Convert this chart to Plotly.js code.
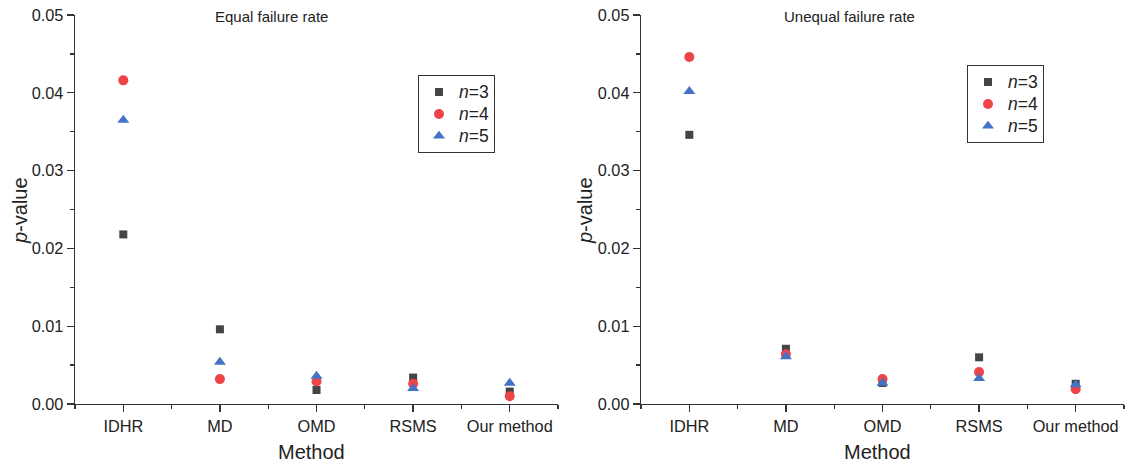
<!DOCTYPE html>
<html>
<head>
<meta charset="utf-8">
<script src="https://cdn.plot.ly/plotly-3.0.1.min.js"></script>
<style>html,body{margin:0;padding:0;background:#fff}#chart{width:1126px;height:463px}</style>
</head>
<body>
<div id="chart"></div>
<script>
// Data
const methods = ["IDHR", "MD", "OMD", "RSMS", "Our method"];
const seriesNames = ["<i>n</i>=3", "<i>n</i>=4", "<i>n</i>=5"];
// Equal failure rate
const equalN3 = [0.0218, 0.0096, 0.0018, 0.0034, 0.0016];
const equalN4 = [0.0416, 0.0032, 0.0029, 0.0026, 0.0010];
const equalN5 = [0.0365, 0.0054, 0.0036, 0.0020, 0.0027];
// Unequal failure rate
const unequalN3 = [0.0346, 0.0071, 0.0027, 0.0060, 0.0026];
const unequalN4 = [0.0446, 0.0064, 0.0032, 0.0041, 0.0019];
const unequalN5 = [0.0402, 0.0061, 0.0027, 0.0033, 0.0025];
const yTickVals = [0, 0.01, 0.02, 0.03, 0.04, 0.05];

const colors = ["#444444", "#ec4448", "#4472c4"];
const symbols = ["square", "circle", "triangle-up"];
const sizes = [8, 10, 10.5];
const xIdx = methods.map((m, i) => i);
const FAM = "Liberation Sans, Arial, sans-serif";

function mk(vals, k, xa, ya, leg) {
  return {
    type: "scatter", mode: "markers", x: xIdx, y: vals,
    xaxis: xa, yaxis: ya, legend: leg,
    name: '<span style="font-size:17.5px">' + seriesNames[k] + '</span>',
    marker: {symbol: symbols[k], size: sizes[k], color: colors[k], line: {width: 0}},
    hoverinfo: "x+y"
  };
}
const traces = [
  mk(equalN3, 0, "x", "y", "legend"),
  mk(equalN4, 1, "x", "y", "legend"),
  mk(equalN5, 2, "x", "y", "legend"),
  mk(unequalN3, 0, "x2", "y2", "legend2"),
  mk(unequalN4, 1, "x2", "y2", "legend2"),
  mk(unequalN5, 2, "x2", "y2", "legend2")
];

const tickFont = {family: FAM, size: 16.3, color: "#222"};
function xax(dom) {
  return {
    domain: dom, range: [-0.5, 4.5], tickmode: "array", tickvals: xIdx, ticktext: methods,
    showline: true, linecolor: "#333", linewidth: 1.3, ticks: "outside", ticklen: 7, tickwidth: 1.3,
    tickcolor: "#333", showgrid: false, zeroline: false, fixedrange: true,
    minor: {tickmode: "linear", tick0: -0.5, dtick: 1, ticks: "outside", ticklen: 4, tickwidth: 1.3, tickcolor: "#333", showgrid: false},
    tickfont: tickFont
  };
}
function yax(anchor) {
  return {
    domain: [0.1274, 0.9676], range: [0, 0.05], anchor: anchor, tickmode: "array", tickvals: yTickVals,
    tickformat: ".2f", showline: true, linecolor: "#333", linewidth: 1.3, ticks: "outside", ticklen: 7,
    tickwidth: 1.3, tickcolor: "#333", showgrid: false, zeroline: false, fixedrange: true,
    minor: {tickmode: "linear", tick0: 0, dtick: 0.005, ticks: "outside", ticklen: 4, tickwidth: 1.3, tickcolor: "#333", showgrid: false},
    tickfont: tickFont
  };
}
const legStyle = {
  bgcolor: "rgba(255,255,255,0)", bordercolor: "#333", borderwidth: 1,
  font: {family: FAM, size: 14.6, color: "#222"}, tracegroupgap: 0,
  itemwidth: 30, xanchor: "left", yanchor: "top"
};
const titleFont = {family: FAM, size: 20, color: "#222"};
function ann(text, x, y, size, angle) {
  return {text: text, xref: "paper", yref: "paper", x: x / 1126, y: 1 - y / 463,
    xanchor: "center", yanchor: "middle", showarrow: false, textangle: angle || 0,
    font: {family: FAM, size: size, color: "#222"}};
}
const layout = {
  width: 1126, height: 463, margin: {l: 0, r: 0, t: 0, b: 0},
  paper_bgcolor: "#fff", plot_bgcolor: "#fff", font: tickFont, showlegend: true,
  xaxis: Object.assign(xax([0.0666, 0.4956]), {anchor: "y"}),
  yaxis: yax("x"),
  xaxis2: Object.assign(xax([0.5693, 0.9982]), {anchor: "y2"}),
  yaxis2: yax("x2"),
  legend: Object.assign({}, legStyle, {x: 418 / 1126, y: 1 - 75 / 463}),
  legend2: Object.assign({}, legStyle, {x: 967 / 1126, y: 1 - 65 / 463}),
  annotations: [
    ann("Equal failure rate", 271.5, 17, 15),
    ann("Unequal failure rate", 849, 17, 15),
    ann("Method", 311, 452, 20),
    ann("Method", 877, 452, 20),
    ann("<i>p</i>-value", 20, 211, 20, -90),
    ann("<i>p</i>-value", 585, 211, 20, -90)
  ]
};
Plotly.newPlot("chart", traces, layout, {displayModeBar: false, staticPlot: true});
</script>
</body>
</html>
